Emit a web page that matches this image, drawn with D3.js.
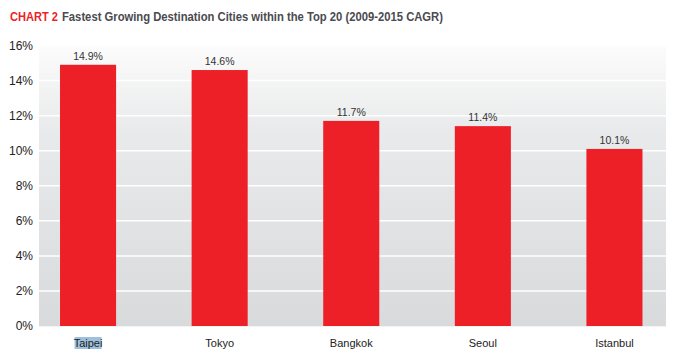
<!DOCTYPE html>
<html><head><meta charset="utf-8">
<script src="https://cdn.jsdelivr.net/npm/d3@7"></script>
<style>body{margin:0;background:#fff;}svg{display:block;}</style>
</head><body>
<svg id="c" width="686" height="356"></svg>
<script>
const categories = ["Taipei","Tokyo","Bangkok","Seoul","Istanbul"];
const values = [14.9, 14.6, 11.7, 11.4, 10.1];
const valueLabels = ["14.9%","14.6%","11.7%","11.4%","10.1%"];
const yTicks = [0,2,4,6,8,10,12,14,16];

const svg = d3.select("#c");
const plotL = 39, plotR = 666, plotT = 45.5, plotB = 326;
const FONT = "Liberation Sans Narrow, Arial Narrow, sans-serif";

const defs = svg.append("defs");
const g = defs.append("linearGradient").attr("id","bg").attr("x1",0).attr("y1",0).attr("x2",0).attr("y2",1);
g.append("stop").attr("offset","0%").attr("stop-color","#fcfcfc");
g.append("stop").attr("offset","30%").attr("stop-color","#e9eaeb");
g.append("stop").attr("offset","100%").attr("stop-color","#d9dadc");

const x = d3.scaleBand().domain(categories).range([22.25, 680.25]).paddingInner(0.574).paddingOuter(0.287);
const y = d3.scaleLinear().domain([0,16]).range([plotB, plotT]);

svg.append("rect").attr("x",plotL).attr("y",plotT).attr("width",plotR-plotL).attr("height",plotB-plotT).attr("fill","url(#bg)");

svg.append("g").selectAll("line").data(yTicks.filter(d=>d>0)).join("line")
  .attr("x1",plotL).attr("x2",plotR).attr("y1",d=>y(d)).attr("y2",d=>y(d))
  .attr("stroke","#ffffff").attr("stroke-width",1.5);

svg.append("line").attr("x1",plotL).attr("x2",plotR).attr("y1",plotB+0.5).attr("y2",plotB+0.5).attr("stroke","#f2f2f2").attr("stroke-width",1);

const yAxis = svg.append("g").attr("transform",`translate(${plotL-6},0)`)
  .call(d3.axisLeft(y).tickValues(yTicks).tickFormat(d=>d+"%").tickSize(0).tickPadding(0));
yAxis.select(".domain").remove();
yAxis.selectAll("text").attr("font-family",FONT).attr("font-size",12).attr("fill","#222");

svg.append("g").selectAll("rect").data(values).join("rect")
  .attr("x",(d,i)=>x(categories[i])).attr("width",x.bandwidth())
  .attr("y",d=>y(d)).attr("height",d=>plotB-y(d)).attr("fill","#ed1f27");

svg.append("g").selectAll("text").data(values).join("text")
  .attr("x",(d,i)=>x(categories[i])+x.bandwidth()/2).attr("y",d=>y(d)-5)
  .attr("text-anchor","middle").attr("font-family",FONT)
  .attr("font-size",10.5).attr("fill","#333").text((d,i)=>valueLabels[i]);

// selection highlight behind first x label
const xl = svg.append("g");
const hx = x(categories[0])+x.bandwidth()/2;
xl.append("rect").attr("x",hx-13.5).attr("y",337).attr("width",27).attr("height",12).attr("fill","#9dc0dd");
xl.selectAll("text").data(categories).join("text")
  .attr("x",d=>x(d)+x.bandwidth()/2).attr("y",346.5)
  .attr("text-anchor","middle").attr("font-family",FONT)
  .attr("font-size",11).attr("fill","#222").text(d=>d);

const t1 = svg.append("text").attr("x",10).attr("y",21).attr("font-family",FONT)
  .attr("font-size",13).attr("font-weight","bold").attr("fill","#ed1f27")
  .attr("textLength",48).attr("lengthAdjust","spacingAndGlyphs").text("CHART 2");
svg.append("text").attr("x",62).attr("y",21).attr("font-family",FONT)
  .attr("font-size",13).attr("font-weight","bold").attr("fill","#4a4a4f")
  .attr("textLength",381).attr("lengthAdjust","spacingAndGlyphs")
  .text("Fastest Growing Destination Cities within the Top 20 (2009-2015 CAGR)");
</script>
</body></html>
